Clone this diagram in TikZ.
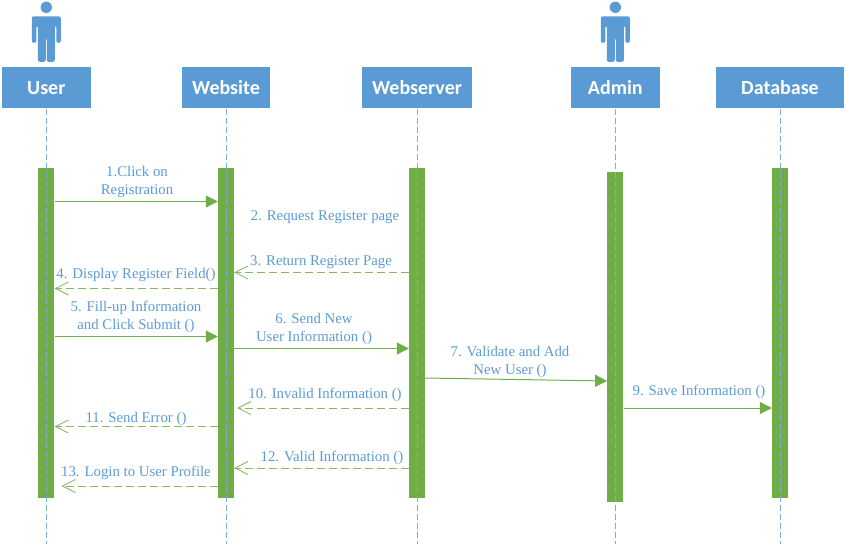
\documentclass[tikz,border=0pt]{standalone}
\usepackage{fontspec}
\setmainfont{Liberation Serif}
\newfontfamily\headfont{Carlito}
\usetikzlibrary{arrows.meta}
\definecolor{headblue}{HTML}{5B9BD5}
\definecolor{bargreen}{HTML}{70AD47}
\begin{document}
\begin{tikzpicture}[
            x=1pt, y=-1pt,
            head/.style={rectangle, fill=headblue, text=white, inner sep=0pt, minimum height=41pt, font=\headfont\fontsize{20}{24}\selectfont\bfseries},
            bar/.style={rectangle, fill=bargreen, inner sep=0pt, minimum width=16pt, minimum height=330pt, anchor=north},
            life/.style={headblue!80, line width=0.8pt, dash pattern=on 6pt off 3pt},
            msg/.style={bargreen, line width=1pt, -{Triangle[length=12pt, width=12pt]}},
            back/.style={bargreen!85, line width=1pt, dash pattern=on 8pt off 4pt, -{Straight Barb[length=13pt, width=13pt, line width=0.8pt]}},
            txt/.style={text=headblue, inner sep=0pt, font=\fontsize{14.8}{18}\selectfont},
            actorfig/.pic={
                \fill[headblue] (0,-80.5) circle (5.7pt);
                \fill[headblue, rounded corners=2pt] (-14.5,-71.5) -- (14.5,-71.5) -- (14.5,-45) -- (10,-45) -- (10,-62) -- (8.5,-62) -- (8.5,-26) -- (0.5,-26) -- (0.5,-50) -- (-0.5,-50) -- (-0.5,-26) -- (-8.5,-26) -- (-8.5,-62) -- (-10,-62) -- (-10,-45) -- (-14.5,-45) -- cycle;
            },
        ]
            \useasboundingbox (0,0) rectangle (846,547);
            % headers
            \node(userhead) at (46.3,87.8) [head, minimum width=88.7pt] {User};
            \node(webhead) at (226,87.8) [head, minimum width=88.7pt] {Website};
            \node(serverhead) at (417,87.8) [head, minimum width=110pt] {Webserver};
            \node(adminhead) at (615.3,87.8) [head, minimum width=88.7pt] {Admin};
            \node(dbhead) at (780,87.8) [head, minimum width=128pt] {Database};
            % actors
            \pic at (userhead.center) {actorfig};
            \pic at (adminhead.center) {actorfig};
            % activation bars
            \node[bar](userbar) at (46.3,168) {};
            \node[bar](webbar) at (226,168) {};
            \node[bar](serverbar) at (417,168) {};
            \node[bar](adminbar) at (615.3,171.3) {};
            \node[bar](dbbar) at (780,168) {};
            % lifelines
            \coordinate (userend) at (46.3,544);
            \coordinate (webend) at (226,544);
            \coordinate (serverend) at (417,544);
            \coordinate (adminend) at (615.3,544);
            \coordinate (dbend) at (780,544);
            \draw[life] (userhead.south) -- (userend);
            \draw[life] (webhead.south) -- (webend);
            \draw[life] (serverhead.south) -- (serverend);
            \draw[life] (adminhead.south) -- (adminend);
            \draw[life] (dbhead.south) -- (dbend);
            % messages
            \draw[msg] (userbar.east |- 0,201.5) -- (webbar.west |- 0,201.5);
            \draw[back] (serverbar.west |- 0,272.5) -- (webbar.east |- 0,272.5);
            \draw[back] (webbar.west |- 0,288.5) -- (userbar.east |- 0,288.5);
            \draw[msg] (userbar.east |- 0,336.5) -- (webbar.west |- 0,336.5);
            \draw[msg] (webbar.east |- 0,348.5) -- (serverbar.west |- 0,348.5);
            \draw[msg] (serverbar.east |- 0,378) -- (adminbar.west |- 0,381);
            \draw[msg] (adminbar.east |- 0,408) -- (dbbar.west |- 0,408);
            \draw[back] (serverbar.west |- 0,408) -- ([xshift=3pt]webbar.east |- 0,408);
            \draw[back] (webbar.west |- 0,426.5) -- (userbar.east |- 0,426.5);
            \draw[back] (serverbar.west |- 0,468) -- (webbar.east |- 0,468);
            \draw[back] (webbar.west |- 0,486) -- ([xshift=7pt]userbar.east |- 0,486);
            % labels
            \node[txt](clicklabel) at (137,181.5) {\begin{tabular}{c} 1.Click on \\ Registration \end{tabular}};
            \node[txt](requestlabel) at (325,217.5) {2. Request Register page};
            \node[txt](returnlabel) at (321,262.5) {3. Return Register Page};
            \node[txt](displaylabel) at (136,274.5) {4. Display Register Field()};
            \node[txt](filllabel) at (136,316.5) {\begin{tabular}{c} 5. Fill-up Information \\ and Click Submit () \end{tabular}};
            \node[txt](sendlabel) at (314,328.5) {\begin{tabular}{c} 6. Send New \\ User Information () \end{tabular}};
            \node[txt](validatelabel) at (510,361.5) {\begin{tabular}{c} 7. Validate and Add \\ New User () \end{tabular}};
            \node[txt](savelabel) at (699,391.5) {9. Save Information ()};
            \node[txt](invalidlabel) at (325,394.5) {10. Invalid Information ()};
            \node[txt](errorlabel) at (136,418.5) {11. Send Error ()};
            \node[txt](validlabel) at (332,457.5) {12. Valid Information ()};
            \node[txt](loginlabel) at (136,472.5) {13. Login to User Profile};
        \end{tikzpicture}
\end{document}
